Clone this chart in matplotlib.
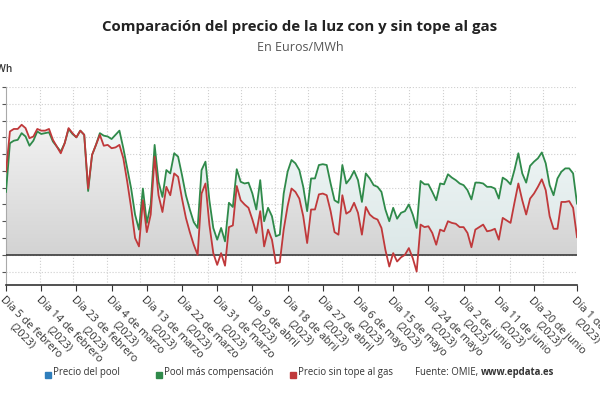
import numpy as np
import pandas as pd
import matplotlib
matplotlib.use('Agg')
import matplotlib.pyplot as plt
import matplotlib.dates as mdates
from matplotlib.patches import Rectangle
from matplotlib.colors import LinearSegmentedColormap

plt.rcParams['font.family'] = ['Open Sans', 'DejaVu Sans']

# datos diarios (Euros/MWh), 5 feb - 1 jul 2023
fechas = pd.date_range('2023-02-05', '2023-07-01', freq='D')

pool_compensacion = [
    75, 133, 136, 137, 145, 141, 130, 136, 147, 144, 145, 146, 135, 129, 123, 133, 150, 144, 140, 148, 143, 76, 119, 131,
    145, 142, 141, 138, 143, 148, 127, 103, 79, 48, 30, 79, 38, 60, 131, 87, 69, 101, 97, 121, 117, 95, 71, 54, 39,
    32, 101, 111, 65, 32, 18, 32, 16, 62, 57, 102, 87, 85, 86, 73, 54, 89, 40, 56, 46, 22, 24, 73, 99,
    113, 109, 101, 81, 52, 91, 91, 107, 108, 107, 85, 65, 62, 107, 85, 91, 100, 89, 63, 97, 91, 83, 81, 75, 54,
    40, 56, 43, 50, 52, 60, 48, 32, 88, 84, 84, 75, 65, 85, 84, 96, 92, 89, 85, 83, 77, 66, 86, 86,
    85, 81, 81, 79, 67, 92, 89, 84, 101, 121, 97, 86, 106, 111, 115, 122, 109, 83, 71, 91, 99, 103, 103, 97, 61,
]
sin_tope = [
    99, 147, 150, 150, 155, 151, 139, 141, 150, 148, 148, 150, 137, 129, 121, 133, 151, 145, 140, 148, 143, 79, 119, 131,
    143, 130, 131, 127, 128, 131, 115, 87, 56, 20, 10, 65, 27, 48, 117, 71, 51, 81, 71, 97, 93, 67, 44, 27, 12,
    0, 73, 85, 36, 2, -12, 2, -13, 33, 35, 82, 65, 60, 56, 42, 26, 52, 10, 30, 18, -10, -9, 30, 58,
    79, 75, 67, 46, 14, 54, 54, 72, 73, 71, 52, 27, 24, 71, 49, 52, 62, 50, 24, 57, 48, 44, 42, 32, 6,
    -14, 2, -8, -3, 0, 8, -4, -20, 36, 33, 34, 26, 12, 30, 28, 40, 38, 37, 33, 33, 26, 9, 30, 33,
    36, 28, 29, 31, 18, 44, 41, 38, 62, 85, 65, 48, 67, 73, 81, 90, 77, 46, 31, 31, 63, 63, 64, 56, 21,
]

fechas_etiqueta = ['2023-02-05', '2023-02-14', '2023-02-23', '2023-03-04', '2023-03-13', '2023-03-22',
                   '2023-03-31', '2023-04-09', '2023-04-18', '2023-04-27', '2023-05-06', '2023-05-15',
                   '2023-05-24', '2023-06-02', '2023-06-11', '2023-06-20', '2023-07-01']
etiquetas = ['Día 5 de febrero', 'Día 14 de febrero', 'Día 23 de febrero', 'Día 4 de marzo',
             'Día 13 de marzo', 'Día 22 de marzo', 'Día 31 de marzo', 'Día 9 de abril',
             'Día 18 de abril', 'Día 27 de abril', 'Día 6 de mayo', 'Día 15 de mayo',
             'Día 24 de mayo', 'Día 2 de junio', 'Día 11 de junio', 'Día 20 de junio', 'Día 1 de julio']

c_azul = '#2f7ebc'
c_verde = '#2f8a4a'
c_rojo = '#c0393b'

x = mdates.date2num(fechas)

fig = plt.figure(figsize=(6, 4), dpi=100)
ax = fig.add_axes([0.01, 0.2875, 0.9517, 0.495])

ymin, ymax = -36, 200

# relleno bajo la serie verde (degradado verdoso)
poly_v = ax.fill_between(x, pool_compensacion, 0, color='none', lw=0)
cmap_v = LinearSegmentedColormap.from_list('v', ['#dce8e8', '#f2f7f7'])
grad = np.linspace(0, 1, 256).reshape(-1, 1)
im_v = ax.imshow(grad, extent=[x[0], x[-1], 0, 160], origin='lower', aspect='auto',
                 cmap=cmap_v, zorder=1)
im_v.set_clip_path(poly_v.get_paths()[0], transform=ax.transData)

# relleno bajo la serie roja (degradado gris)
poly_r = ax.fill_between(x, sin_tope, 0, color='none', lw=0)
cmap_r = LinearSegmentedColormap.from_list('r', ['#d3d3d3', '#f3f3f3'])
im_r = ax.imshow(grad, extent=[x[0], x[-1], 0, 160], origin='lower', aspect='auto',
                 cmap=cmap_r, zorder=1.5)
im_r.set_clip_path(poly_r.get_paths()[0], transform=ax.transData)

ax.plot(x, pool_compensacion, color=c_verde, lw=1.3, zorder=4)
ax.plot(x, sin_tope, color=c_rojo, lw=1.3, zorder=5)
ax.axhline(0, color='#3a3a3a', lw=1.2, zorder=3)

ax.set_xlim(x[0], x[-1])
ax.set_ylim(ymin, ymax)

ax.set_yticks(np.arange(-20, 201, 20))
ax.set_yticklabels([])
ax.tick_params(axis='y', length=3, color='#555', direction='out')
ax.grid(axis='y', color='#cfcfcf', ls=':', lw=0.8, zorder=0)

ticks = mdates.date2num(pd.to_datetime(fechas_etiqueta))
ax.set_xticks(ticks)
ax.set_xticklabels([e + '\n(2023)' for e in etiquetas], rotation=-45, ha='left', va='top',
                   rotation_mode='anchor', fontsize=7.8, color='#333', multialignment='center')
ax.set_xticks(np.linspace(x[0], x[-1], 18), minor=True)
ax.tick_params(axis='x', which='major', length=4, color='#333', pad=3)
ax.tick_params(axis='x', which='minor', length=0)
ax.grid(axis='x', which='minor', color='#cfcfcf', ls=':', lw=0.8, zorder=0)
ax.set_axisbelow(True)

for s in ['top', 'right']:
    ax.spines[s].set_visible(False)
ax.spines['left'].set_color('#aaaaaa')
ax.spines['left'].set_linewidth(0.8)
ax.spines['bottom'].set_color('#333333')
ax.spines['bottom'].set_linewidth(1.2)

fig.text(0.5, 0.932, 'Comparación del precio de la luz con y sin tope al gas', ha='center', va='center',
         fontsize=10.8, weight='bold', color='#222')
fig.text(0.5, 0.882, 'En Euros/MWh', ha='center', va='center', fontsize=9, color='#555')
fig.text(0.021, 0.826, 'Euros/MWh', ha='right', va='center', fontsize=7.2, weight='semibold', color='#333')

# leyenda
ly = 0.068
items = [(c_azul, 'Precio del pool', 45), (c_verde, 'Pool más compensación', 156),
         (c_rojo, 'Precio sin tope al gas', 290)]
for col, txt, px in items:
    fig.add_artist(Rectangle((px / 600, ly - 0.012), 6 / 600, 6 / 400, transform=fig.transFigure,
                             color=col))
    fig.text((px + 8) / 600, ly, txt, ha='left', va='center', fontsize=6.9, color='#333')

fuente = fig.text(415 / 600, ly, 'Fuente: OMIE, ', ha='left', va='center', fontsize=6.9, color='#333')
fig.canvas.draw()
bb = fuente.get_window_extent()
fig.text(bb.x1 / fig.bbox.width, ly, 'www.epdata.es', ha='left', va='center', fontsize=6.9,
         weight='bold', color='#333')

fig.savefig('out.png', dpi=100)
